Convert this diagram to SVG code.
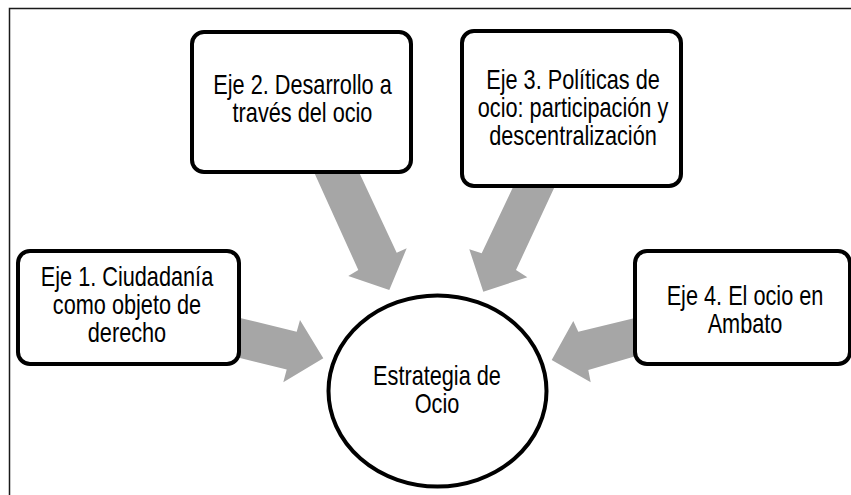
<svg xmlns="http://www.w3.org/2000/svg" width="851" height="495" viewBox="0 0 851 495">
<style>
.box{fill:#fff;stroke:#000;stroke-width:4}
.arrow{fill:#a6a6a6;stroke:none}
.t{font-family:"Liberation Sans",Arial,sans-serif;font-size:21.7px;fill:#000;text-anchor:middle}
</style>
<rect width="851" height="495" fill="#fff"/>
<path d="M9.5,495 V8.5 H851" fill="none" stroke="#1a1a1a" stroke-width="1.5"/>
<g id="connectors">
<polygon class="arrow" points="238,317.5 296.7,331.7 300,320 323.3,358.3 283.3,382.3 286.7,369.5 238,357.5"/>
<polygon class="arrow" points="313.5,171 358.3,270 348.3,276 389.3,290 406.7,248.3 396.7,252.7 358.5,171"/>
<polygon class="arrow" points="513.5,186 481.7,253.3 469.3,249.3 483.3,291.7 527.3,277.3 516,270 555,186"/>
<polygon class="arrow" points="637,317.5 578.3,331.7 573.3,321 551.7,360 590.7,382.3 588.3,370 637,355.7"/>
</g>
<g id="eje1">
<rect class="box" x="18" y="251" width="221" height="113" rx="12"/>
<text class="t" transform="matrix(1,0,0,1.25,127,286)">Eje 1. Ciudadanía</text>
<text class="t" transform="matrix(1,0,0,1.25,127,314)">como objeto de</text>
<text class="t" transform="matrix(1,0,0,1.25,127,342)">derecho</text>
</g>
<g id="eje2">
<rect class="box" x="192" y="32" width="219" height="140" rx="12"/>
<text class="t" transform="matrix(1,0,0,1.25,302.5,94)">Eje 2. Desarrollo a</text>
<text class="t" transform="matrix(1,0,0,1.25,302.5,122)">través del ocio</text>
</g>
<g id="eje3">
<rect class="box" x="462" y="31" width="219" height="155" rx="12"/>
<text class="t" transform="matrix(1,0,0,1.25,573,89)">Eje 3. Políticas de</text>
<text class="t" transform="matrix(1,0,0,1.25,573,117)">ocio: participación y</text>
<text class="t" transform="matrix(1,0,0,1.25,573,145)">descentralización</text>
</g>
<g id="eje4">
<rect class="box" x="635" y="251" width="215" height="113" rx="12"/>
<text class="t" transform="matrix(1,0,0,1.25,745,305)">Eje 4. El ocio en</text>
<text class="t" transform="matrix(1,0,0,1.25,745,333)">Ambato</text>
</g>
<g id="estrategia">
<ellipse class="box" cx="437.5" cy="391" rx="109" ry="95.5"/>
<text class="t" transform="matrix(1,0,0,1.25,437,385)">Estrategia de</text>
<text class="t" transform="matrix(1,0,0,1.25,437,413)">Ocio</text>
</g>
</svg>
